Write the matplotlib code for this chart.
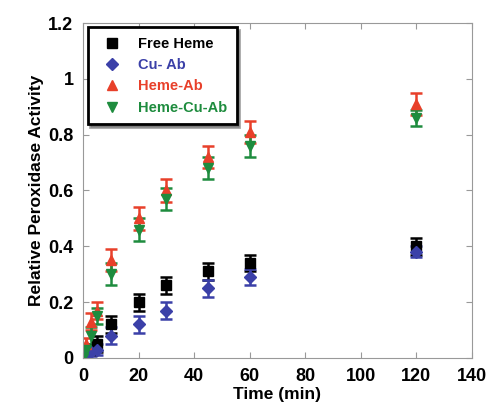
import matplotlib.pyplot as plt

plt.rcParams['font.family'] = ['Liberation Sans', 'DejaVu Sans']
plt.rcParams['font.weight'] = 'bold'

time_min = [0, 1, 3, 5, 10, 20, 30, 45, 60, 120]

free_heme = [0.0, 0.01, 0.03, 0.05, 0.12, 0.20, 0.26, 0.31, 0.34, 0.40]
free_heme_err = [0.02, 0.02, 0.02, 0.03, 0.03, 0.03, 0.03, 0.03, 0.03, 0.03]

cu_ab = [0.0, 0.01, 0.02, 0.03, 0.08, 0.12, 0.17, 0.25, 0.29, 0.38]
cu_ab_err = [0.02, 0.02, 0.02, 0.02, 0.03, 0.03, 0.03, 0.03, 0.03, 0.02]

heme_ab = [0.0, 0.05, 0.13, 0.17, 0.35, 0.50, 0.60, 0.72, 0.81, 0.91]
heme_ab_err = [0.02, 0.02, 0.03, 0.03, 0.04, 0.04, 0.04, 0.04, 0.04, 0.04]

heme_cu_ab = [0.0, 0.03, 0.08, 0.15, 0.30, 0.46, 0.57, 0.68, 0.76, 0.86]
heme_cu_ab_err = [0.02, 0.02, 0.03, 0.03, 0.04, 0.04, 0.04, 0.04, 0.04, 0.03]

series = [
    ("Free Heme", free_heme, free_heme_err, "s", "black"),
    ("Cu- Ab", cu_ab, cu_ab_err, "D", "#3b40a8"),
    ("Heme-Ab", heme_ab, heme_ab_err, "^", "#e8402a"),
    ("Heme-Cu-Ab", heme_cu_ab, heme_cu_ab_err, "v", "#1e8c3e"),
]

fig = plt.figure(figsize=(4.92, 4.11), dpi=100)
ax = fig.add_axes([0.169, 0.129, 0.790, 0.815])

for name, vals, errs, mk, col in series:
    ax.errorbar(time_min, vals, yerr=errs, fmt=mk, color=col, ms=7 if mk != "D" else 6,
                capsize=4, elinewidth=1.8, capthick=1.8, label=name)

ax.set_xlim(0, 140)
ax.set_ylim(0, 1.2)
ax.set_xticks(range(0, 141, 20))
ax.set_yticks([0, 0.2, 0.4, 0.6, 0.8, 1, 1.2])
ax.set_yticklabels(["0", "0.2", "0.4", "0.6", "0.8", "1", "1.2"])
ax.tick_params(direction="in", top=True, right=True, length=4, color="#999999",
               labelsize=13, pad=7)
for s in ax.spines.values():
    s.set_color("#999999")

ax.set_xlabel("Time (min)", fontsize=12.5, fontweight="bold", labelpad=2)
ax.set_ylabel("Relative Peroxidase Activity", fontsize=12.5, fontweight="bold", labelpad=3)

handles, labels = ax.get_legend_handles_labels()
handles = [h[0] for h in handles]
leg = ax.legend(handles, labels, loc="upper left", fontsize=10.5, shadow=True, fancybox=False,
                framealpha=1, borderpad=0.65, handletextpad=0.8, labelspacing=0.5,
                bbox_to_anchor=(0.0, 1.0), borderaxespad=0.3)
leg.get_frame().set_edgecolor("black")
leg.get_frame().set_linewidth(2)
for t, (_, _, _, _, col) in zip(leg.get_texts(), series):
    t.set_color(col)

fig.savefig("out.png", dpi=100)
